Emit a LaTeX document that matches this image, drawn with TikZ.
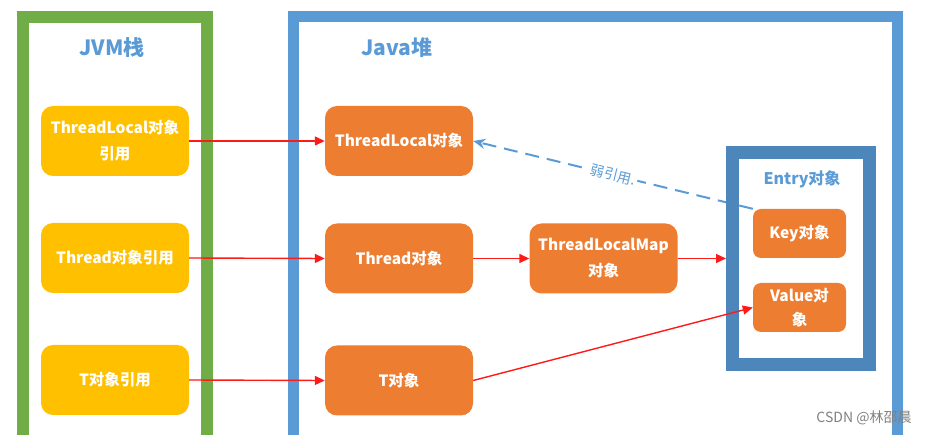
\documentclass[tikz,border=0pt]{standalone}
\usepackage{fontspec}
\setmainfont{Noto Sans CJK SC}
\usetikzlibrary{arrows.meta}
\definecolor{frgreen}{HTML}{70AD47}
\definecolor{frblue}{HTML}{5B9BD5}
\definecolor{entryblue}{HTML}{4D86BA}
\definecolor{ybox}{HTML}{FFC000}
\definecolor{obox}{HTML}{ED7D31}
\definecolor{titleblue}{HTML}{5B9BD5}
\definecolor{arrred}{HTML}{FF1A1A}
\tikzset{
  ybx/.style={fill=ybox, rounded corners=12pt, minimum width=148pt, minimum height=70pt, inner sep=0pt,
    text=white, font=\fontsize{15.5}{26}\selectfont\bfseries, align=center},
  obx/.style={fill=obox, rounded corners=12pt, minimum width=148pt, minimum height=70pt, inner sep=0pt,
    text=white, font=\fontsize{15.5}{26}\selectfont\bfseries, align=center},
  sbx/.style={fill=obox, rounded corners=8pt, minimum width=93pt, minimum height=49pt, inner sep=0pt,
    text=white, font=\fontsize{15.5}{24}\selectfont\bfseries, align=center},
  ttl/.style={text=titleblue, font=\fontsize{21}{24}\selectfont\bfseries},
  redarr/.style={draw=arrred, line width=1.4pt, -{Triangle[length=10pt,width=9pt]}},
  weakarr/.style={draw=frblue, line width=2pt, dash pattern=on 14pt off 8pt, -{Stealth[length=12pt,width=10pt]}},
}
\begin{document}
\begin{tikzpicture}[x=1pt,y=-1pt]
\useasboundingbox (0,0) rectangle (930,435);
\clip (0,0) rectangle (930,435);
\fill[white] (0,0) rectangle (930,435);
% frames
\draw[frgreen, line width=12pt] (23,17) rectangle (206.5,460);
\draw[frblue, line width=11pt] (293,17) rectangle (897.5,460);
\node[ttl] (jvm) at (112,48) {JVM栈};
\node[ttl] (heap) at (397,48) {Java堆};
% JVM stack boxes
\node[ybx] (y1) at (115,141) {ThreadLocal对象\\引用};
\node[ybx] (y2) at (115,258) {Thread对象引用};
\node[ybx] (y3) at (115,380) {T对象引用};
% heap boxes
\node[obx] (tl) at (399,141) {ThreadLocal对象};
\node[obx] (th) at (399,258.5) {Thread对象};
\node[obx] (tlm) at (603.5,258.5) {ThreadLocalMap\\对象};
\node[obx] (t) at (399,380.5) {T对象};
% entry
\node[sbx] (key) at (799.5,233.5) {Key对象};
\node[sbx] (val) at (799.5,307.5) {Value对\\象};
\draw[weakarr] (key.north west) -- (tl.east)
  node[midway, sloped, fill=white, inner sep=2pt, text=titleblue, font=\fontsize{14}{16}\selectfont] {弱引用.};
\node[draw=entryblue, line width=13pt, minimum width=137pt, minimum height=212pt, inner sep=0pt] (entry) at (801,258.5) {};
\node[text=titleblue, font=\fontsize{16}{18}\selectfont\bfseries] (entryt) at (802,179) {Entry对象};
% arrows
\draw[redarr] (y1.east) -- (tl.west);
\draw[redarr] (y2.east) -- (th.west);
\draw[redarr] (y3.east) -- (t.west);
\draw[redarr] (th.east) -- (tlm.west);
\draw[redarr] (tlm.east) -- (tlm.east -| entry.west);
\draw[redarr] (t.east) -- (val.west);
% watermark
\node[text=black!50, font=\fontsize{14}{16}\selectfont] (wm) at (864,418) {CSDN @林邵晨};
\end{tikzpicture}
\end{document}
